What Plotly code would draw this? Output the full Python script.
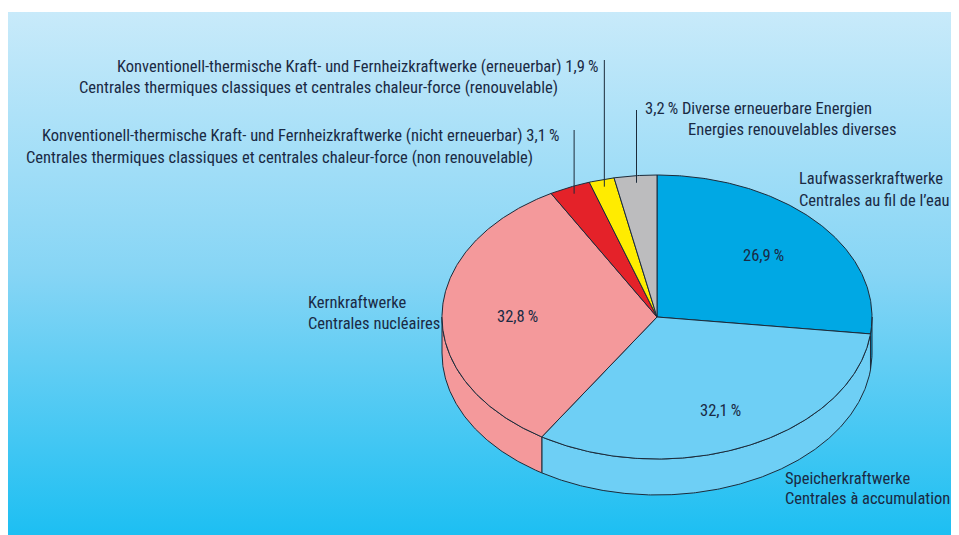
import numpy as np
import plotly.graph_objects as go

# ---- data ----
categories_de = ["Laufwasserkraftwerke", "Speicherkraftwerke", "Kernkraftwerke",
                 "Konventionell-thermische Kraft- und Fernheizkraftwerke (nicht erneuerbar)",
                 "Konventionell-thermische Kraft- und Fernheizkraftwerke (erneuerbar)",
                 "Diverse erneuerbare Energien"]
categories_fr = ["Centrales au fil de l\u2019eau", "Centrales à accumulation", "Centrales nucléaires",
                 "Centrales thermiques classiques et centrales chaleur-force (non renouvelable)",
                 "Centrales thermiques classiques et centrales chaleur-force (renouvelable)",
                 "Energies renouvelables diverses"]
shares = [26.9, 32.1, 32.8, 3.1, 1.9, 3.2]
colors = ["#00a8e4", "#6ecff5", "#f4999b", "#e42229", "#ffec00", "#bcbcbe"]

# ---- geometry (pixel space of the page) ----
W, H = 959, 535
OFF = 8  # page body margin offset
CX, CY, RX, RY, DEPTH = 657, 317, 215, 142, 36
OUTLINE = "#1c2b3a"
TXT = "#1a2a44"
FONT = "Liberation Sans Narrow, Arial Narrow, Roboto Condensed, Liberation Sans, sans-serif"
FS = 16.5


def pct(v):
    return f"{v:.1f}".replace(".", ",") + "\u2009%"


def ell(theta_deg, r=1.0, dy=0.0):
    t = np.radians(theta_deg)
    return CX + RX * r * np.sin(t), CY - RY * r * np.cos(t) + dy


fig = go.Figure()

# background gradient panel
fig.add_trace(go.Scatter(
    x=[8, W + OFF, W + OFF, 8, 8], y=[12, 12, H + OFF, H + OFF, 12], mode="lines", fill="toself",
    line=dict(width=0), hoverinfo="skip", showlegend=False,
    fillgradient=dict(type="vertical", start=12, stop=H,
                      colorscale=[[0, "#c8eafa"], [0.5, "#86d5f5"], [1, "#1dbff2"]])))

total = sum(shares)
bounds = np.concatenate([[0], np.cumsum(shares) / total * 360.0])

# side walls
for i, c in enumerate(colors):
    a, b = max(bounds[i], 90.0), min(bounds[i + 1], 270.0)
    if b <= a:
        continue
    th = np.linspace(a, b, max(3, int((b - a) * 2)))
    xt, yt = ell(th)
    xb, yb = ell(th[::-1], dy=DEPTH)
    fig.add_trace(go.Scatter(
        x=np.concatenate([xt, xb, xt[:1]]), y=np.concatenate([yt, yb, yt[:1]]),
        mode="lines", fill="toself", fillcolor=c, line=dict(color=OUTLINE, width=1),
        hoverinfo="skip", showlegend=False))

# top faces
for i, c in enumerate(colors):
    a, b = bounds[i], bounds[i + 1]
    th = np.linspace(a, b, max(3, int((b - a) * 2)))
    xt, yt = ell(th)
    fig.add_trace(go.Scatter(
        x=np.concatenate([[CX], xt, [CX]]), y=np.concatenate([[CY], yt, [CY]]),
        mode="lines", fill="toself", fillcolor=c, line=dict(color=OUTLINE, width=1),
        hoverinfo="skip", showlegend=False))

mids = (bounds[:-1] + bounds[1:]) / 2

# leader lines for the small slices
leader_tops = {3: 130, 4: 60, 5: 110}
for i, top in leader_tops.items():
    x0, y0 = ell(mids[i], r=0.95)
    fig.add_trace(go.Scatter(x=[x0, x0], y=[top, y0], mode="lines",
                             line=dict(color=OUTLINE, width=1),
                             hoverinfo="skip", showlegend=False))

ann = []


def add(text, x, y, xanchor="left", size=FS):
    ann.append(dict(text=text, x=x, y=y, xref="x", yref="y", xanchor=xanchor,
                    yanchor="middle", showarrow=False,
                    font=dict(family=FONT, size=size, color=TXT)))


# inside percentages
add(pct(shares[0]), 763, 255, "center")
add(pct(shares[1]), 720, 410, "center")
add(pct(shares[2]), 517, 316, "center")

# outside labels
add(f"{categories_de[4]} {pct(shares[4])}", 115, 66)
add(categories_fr[4], 77, 87)
add(f"{categories_de[3]} {pct(shares[3])}", 40, 135)
add(categories_fr[3], 24, 157)
add(f"{pct(shares[5])} {categories_de[5]}", 643, 108)
add(categories_fr[5], 686, 129)
add(categories_de[0], 797, 178)
add(categories_fr[0], 797, 200)
add(categories_de[2], 306, 302)
add(categories_fr[2], 306, 323)
add(categories_de[1], 783, 478)
add(categories_fr[1], 783, 498)

fig.update_layout(
    width=W, height=H, margin=dict(l=0, r=0, t=0, b=0),
    paper_bgcolor="white", plot_bgcolor="white",
    xaxis=dict(range=[OFF, W + OFF], visible=False, fixedrange=True),
    yaxis=dict(range=[H + OFF, OFF], visible=False, fixedrange=True),
    annotations=ann, showlegend=False)

fig.write_html("out.html")
